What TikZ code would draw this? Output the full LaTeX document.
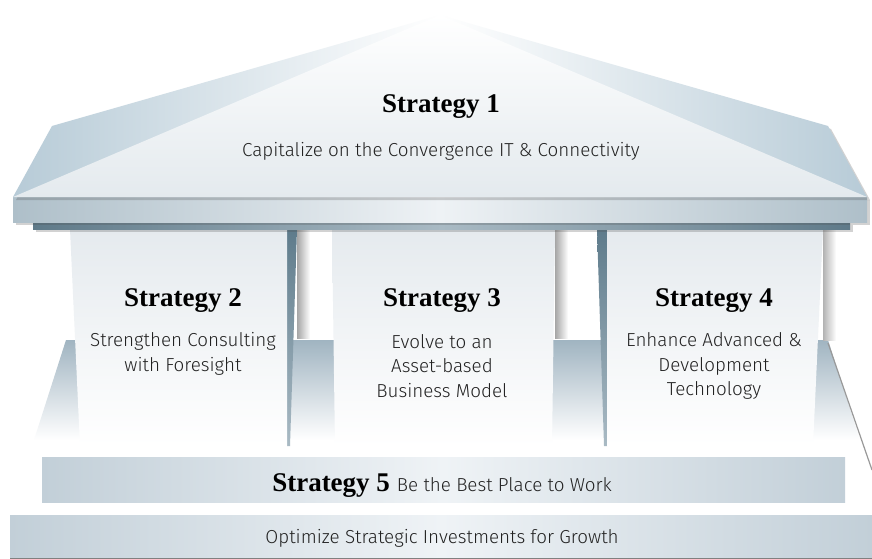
\documentclass[tikz,border=0pt]{standalone}
\usepackage{fontspec}
\setmainfont{Liberation Serif}
\newfontfamily\bodyfont{Fira Sans Light}
\usetikzlibrary{shadows}
\definecolor{roofside}{HTML}{B7CBD7}
\definecolor{roofface}{HTML}{E4EAEE}
\definecolor{corend}{HTML}{AEBFC9}
\definecolor{cormid}{HTML}{EEF2F5}
\definecolor{archdark}{HTML}{5F7A89}
\definecolor{archlight}{HTML}{A9BAC4}
\definecolor{coltop}{HTML}{E5EAEE}
\definecolor{slabend}{HTML}{C2CFD8}
\definecolor{slabmid}{HTML}{EFF3F6}
\definecolor{basetop}{HTML}{A0B4C1}
\definecolor{sidedark}{HTML}{5E7B8B}
\definecolor{txt}{HTML}{222222}
\tikzset{
  head/.style={font=\fontsize{27}{30}\selectfont\bfseries, text=black, inner sep=0pt},
  bodytxt/.style={font=\bodyfont\fontsize{18.8}{24.5}\selectfont, text=txt, align=center, inner sep=0pt},
  colbox/.style={top color=coltop, bottom color=white, draw=none},
  slab/.style={left color=slabend, right color=slabend, middle color=slabmid, draw=none},
  softshadow/.style={drop shadow={shadow xshift=3pt, shadow yshift=-3pt, opacity=0.25, fill=black!70}}
}
\begin{document}
\begin{tikzpicture}[x=1pt,y=-1pt]
\useasboundingbox (0,0) rectangle (872,559);
\fill[white] (0,0) rectangle (872,559);

% base platform (perspective): bluish at top fading to white
\path[top color=basetop, bottom color=white, draw=none]
  (66,340) -- (828,340) -- (860,440) -- (34,440) -- cycle;
\draw[black!40, line width=1.2pt] (828,343) -- (872,470);

% back wall shadows between columns
\shade[left color=black!35, right color=white] (297,229) rectangle (310,338);
\shade[left color=black!35, right color=white] (555,229) rectangle (568,338);
\shade[left color=black!30, right color=white] (823,229) rectangle (836,340);

% column side faces
\path[top color=sidedark, bottom color=archlight] (287,229) -- (297,229) -- (290,446) -- (287,446) -- cycle;
\path[top color=sidedark, bottom color=archlight] (597,229) -- (607,229) -- (607,446) -- (604,446) -- cycle;

% columns
\path[colbox] (70,229) -- (287,229) -- (287,446) -- (80,446) -- cycle;
\path[colbox] (332,229) -- (555,229) -- (552,447) -- (335,447) -- cycle;
\path[colbox] (607,229) -- (823,229) -- (813,446) -- (607,446) -- cycle;

% strategy 5 slab and bottom slab
\path[slab] (42,457) rectangle (845,502);
\path[slab] (10,515) rectangle (872,558);
\draw[black!50, line width=1pt] (10,558) -- (872,558);

% architrave strip
\path[softshadow, left color=archdark, right color=archdark, middle color=archlight] (33,222) rectangle (850,229);

% cornice slab
\path[softshadow, left color=corend, right color=corend, middle color=cormid] (13,197) rectangle (867,222);

% roof
\path[softshadow, left color=roofside, right color=roofside, middle color=white]
  (440,15) -- (52,126) -- (13,197) -- (867,197) -- (828,126) -- cycle;
\path[top color=white, bottom color=roofface] (440,15) -- (13,197) -- (867,197) -- cycle;

% texts
\node[head, anchor=base] (s1) at (441,113) {Strategy 1};
\node[bodytxt, anchor=base] (t1) at (441,157) {Capitalize on the Convergence IT \& Connectivity};

\node[head, anchor=base] (s2) at (183,306) {Strategy 2};
\node[bodytxt] (t2) at (183,354) {Strengthen Consulting\\with Foresight};

\node[head, anchor=base] (s3) at (442,306) {Strategy 3};
\node[bodytxt] (t3) at (442,366) {Evolve to an\\Asset-based\\Business Model};

\node[head, anchor=base] (s4) at (714,306) {Strategy 4};
\node[bodytxt] (t4) at (714,366) {Enhance Advanced \&\\Development\\Technology};

\node[anchor=base, inner sep=0pt, text=txt] (s5) at (442,491)
  {{\fontsize{27}{30}\selectfont\bfseries\color{black}Strategy 5}\hspace{7pt}{\bodyfont\fontsize{18.8}{24.5}\selectfont Be the Best Place to Work}};
\node[bodytxt, anchor=base] (t6) at (442,543) {Optimize Strategic Investments for Growth};
\end{tikzpicture}
\end{document}
